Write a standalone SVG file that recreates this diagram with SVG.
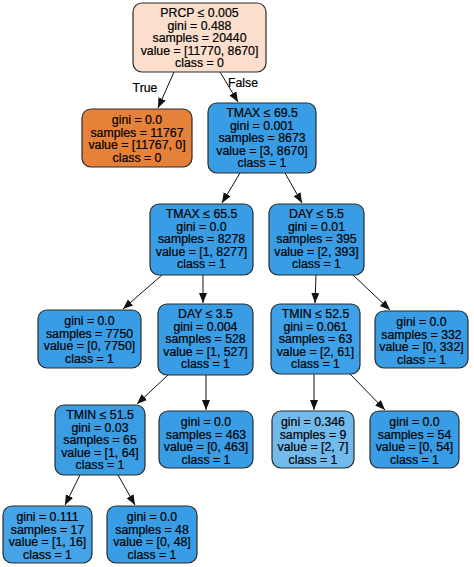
<svg xmlns="http://www.w3.org/2000/svg" width="474" height="567" viewBox="0 0 474 567">
<style>
.n{stroke:#2b2b2b;stroke-width:1.2}
.b{fill:#399de5}
text{font-family:"Liberation Sans",Arial,sans-serif;font-size:12.3px;fill:#000;stroke:#000;stroke-width:0.2;text-anchor:middle}
.e{stroke:#111;stroke-width:1;fill:none;marker-end:url(#ah)}
</style>
<defs>
<marker id="ah" markerUnits="userSpaceOnUse" markerWidth="12" markerHeight="10" refX="10" refY="4" orient="auto">
<path d="M0,0 L10,4 L0,8 Z" fill="#111"/>
</marker>
</defs>
<rect width="474" height="567" fill="#fff"/>
<g id="edges">
<line class="e" x1="174" y1="72" x2="158" y2="108"/>
<line class="e" x1="220" y1="72" x2="238" y2="102"/>
<line class="e" x1="240" y1="173" x2="222" y2="203"/>
<line class="e" x1="285" y1="173" x2="302" y2="203"/>
<line class="e" x1="162" y1="275" x2="123" y2="309"/>
<line class="e" x1="203" y1="275" x2="203" y2="303"/>
<line class="e" x1="316" y1="275" x2="315" y2="303"/>
<line class="e" x1="353" y1="275" x2="390" y2="310"/>
<line class="e" x1="168" y1="375" x2="137" y2="404"/>
<line class="e" x1="206" y1="375" x2="206" y2="410"/>
<line class="e" x1="314" y1="374" x2="314" y2="410"/>
<line class="e" x1="350" y1="374" x2="385" y2="410"/>
<line class="e" x1="80" y1="475" x2="65" y2="505"/>
<line class="e" x1="118" y1="475" x2="135" y2="505"/>
<text x="145" y="92">True</text>
<text x="243" y="87">False</text>
</g>
<g id="n0"><rect class="n" x="133" y="3" width="133" height="69" rx="9" fill="#fbdfcc"/>
<text x="199.5" y="17">PRCP ≤ 0.005</text><text x="199.5" y="29.5">gini = 0.488</text><text x="199.5" y="42">samples = 20440</text><text x="199.5" y="54.5">value = [11770, 8670]</text><text x="199.5" y="67">class = 0</text></g>
<g id="n1"><rect class="n" x="82" y="109" width="110" height="58" rx="9" fill="#e58139"/>
<text x="137" y="124">gini = 0.0</text><text x="137" y="136.5">samples = 11767</text><text x="137" y="149">value = [11767, 0]</text><text x="137" y="161.5">class = 0</text></g>
<g id="n2"><rect class="n b" x="208" y="103" width="108" height="70" rx="9"/>
<text x="262" y="117">TMAX ≤ 69.5</text><text x="262" y="129.5">gini = 0.001</text><text x="262" y="142">samples = 8673</text><text x="262" y="154.5">value = [3, 8670]</text><text x="262" y="167">class = 1</text></g>
<g id="n3"><rect class="n b" x="150" y="204" width="103" height="71" rx="9"/>
<text x="201.5" y="218">TMAX ≤ 65.5</text><text x="201.5" y="230.5">gini = 0.0</text><text x="201.5" y="243">samples = 8278</text><text x="201.5" y="255.5">value = [1, 8277]</text><text x="201.5" y="268">class = 1</text></g>
<g id="n4"><rect class="n b" x="269" y="204" width="95" height="71" rx="9"/>
<text x="316.5" y="218">DAY ≤ 5.5</text><text x="316.5" y="230.5">gini = 0.01</text><text x="316.5" y="243">samples = 395</text><text x="316.5" y="255.5">value = [2, 393]</text><text x="316.5" y="268">class = 1</text></g>
<g id="n5"><rect class="n b" x="38" y="310" width="103" height="58" rx="9"/>
<text x="89.5" y="325">gini = 0.0</text><text x="89.5" y="337.5">samples = 7750</text><text x="89.5" y="350">value = [0, 7750]</text><text x="89.5" y="362.5">class = 1</text></g>
<g id="n6"><rect class="n b" x="158" y="304" width="95" height="71" rx="9"/>
<text x="205.5" y="318">DAY ≤ 3.5</text><text x="205.5" y="330.5">gini = 0.004</text><text x="205.5" y="343">samples = 528</text><text x="205.5" y="355.5">value = [1, 527]</text><text x="205.5" y="368">class = 1</text></g>
<g id="n7"><rect class="n" x="271" y="304" width="89" height="70" rx="9" fill="#3ea0e6"/>
<text x="315.5" y="318">TMIN ≤ 52.5</text><text x="315.5" y="330.5">gini = 0.061</text><text x="315.5" y="343">samples = 63</text><text x="315.5" y="355.5">value = [2, 61]</text><text x="315.5" y="368">class = 1</text></g>
<g id="n8"><rect class="n b" x="375" y="311" width="93" height="57" rx="9"/>
<text x="421.5" y="326">gini = 0.0</text><text x="421.5" y="338.5">samples = 332</text><text x="421.5" y="351">value = [0, 332]</text><text x="421.5" y="363.5">class = 1</text></g>
<g id="n9"><rect class="n" x="55" y="405" width="90" height="70" rx="9" fill="#3b9ee5"/>
<text x="100" y="419">TMIN ≤ 51.5</text><text x="100" y="431.5">gini = 0.03</text><text x="100" y="444">samples = 65</text><text x="100" y="456.5">value = [1, 64]</text><text x="100" y="469">class = 1</text></g>
<g id="n10"><rect class="n b" x="159" y="411" width="94" height="57" rx="9"/>
<text x="206" y="426">gini = 0.0</text><text x="206" y="438.5">samples = 463</text><text x="206" y="451">value = [0, 463]</text><text x="206" y="463.5">class = 1</text></g>
<g id="n11"><rect class="n" x="272" y="411" width="82" height="57" rx="9" fill="#72b9ec"/>
<text x="313" y="426">gini = 0.346</text><text x="313" y="438.5">samples = 9</text><text x="313" y="451">value = [2, 7]</text><text x="313" y="463.5">class = 1</text></g>
<g id="n12"><rect class="n b" x="370" y="411" width="89" height="57" rx="9"/>
<text x="414.5" y="426">gini = 0.0</text><text x="414.5" y="438.5">samples = 54</text><text x="414.5" y="451">value = [0, 54]</text><text x="414.5" y="463.5">class = 1</text></g>
<g id="n13"><rect class="n" x="3" y="506" width="89" height="57" rx="9" fill="#45a3e7"/>
<text x="47.5" y="521">gini = 0.111</text><text x="47.5" y="533.5">samples = 17</text><text x="47.5" y="546">value = [1, 16]</text><text x="47.5" y="558.5">class = 1</text></g>
<g id="n14"><rect class="n b" x="107" y="506" width="90" height="57" rx="9"/>
<text x="152" y="521">gini = 0.0</text><text x="152" y="533.5">samples = 48</text><text x="152" y="546">value = [0, 48]</text><text x="152" y="558.5">class = 1</text></g>
</svg>
